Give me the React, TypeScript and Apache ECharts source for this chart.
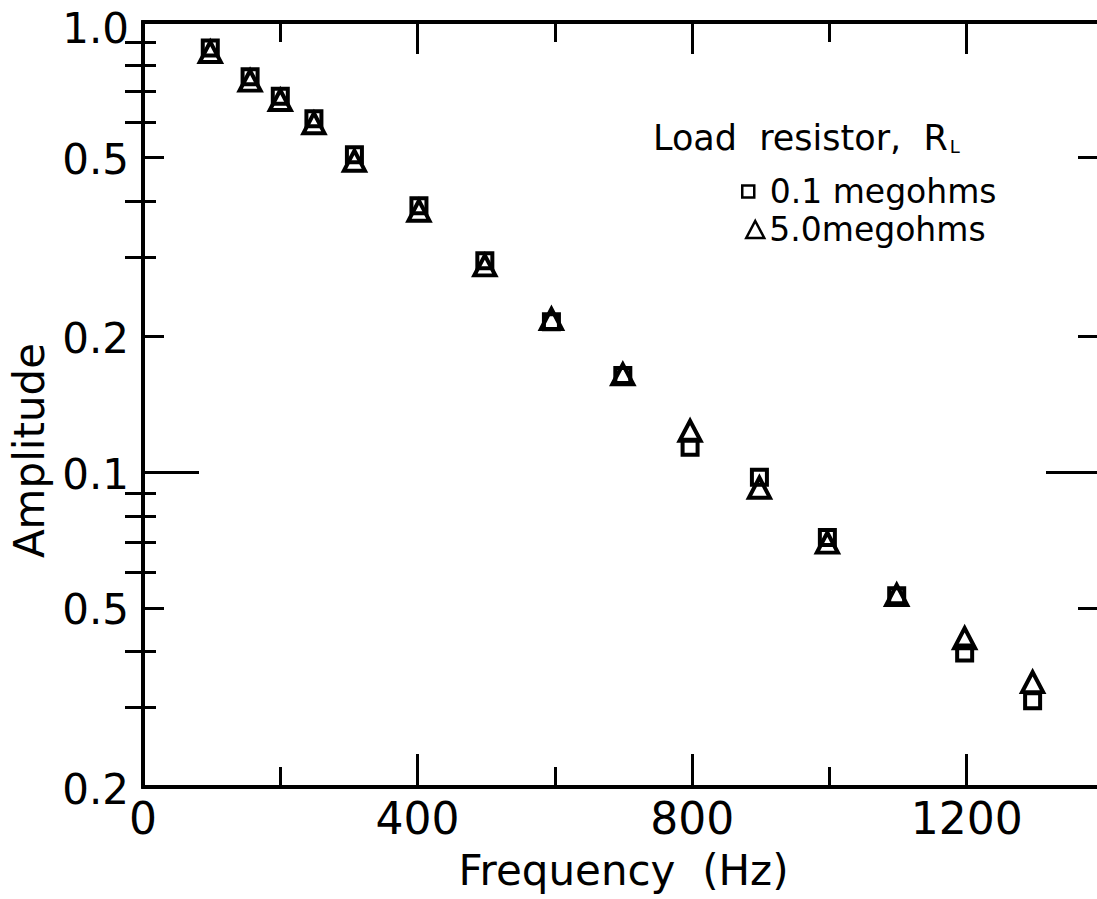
import React, { useEffect, useRef } from 'react';
import * as echarts from 'echarts';

// ---- data ----
const freqSquare = [98, 156, 200, 249, 308, 402, 498, 595, 699, 797, 898, 997, 1098, 1197, 1296];
const ampSquare = [0.876, 0.756, 0.684, 0.61, 0.507, 0.391, 0.295, 0.216, 0.164, 0.1136, 0.0975, 0.0716, 0.0532, 0.0397, 0.0311];
const freqTriangle = [98, 156, 200, 249, 308, 402, 498, 595, 699, 797, 898, 997, 1098, 1197, 1296];
const ampTriangle = [0.858, 0.741, 0.671, 0.596, 0.492, 0.381, 0.288, 0.219, 0.165, 0.1236, 0.0924, 0.0698, 0.0534, 0.0428, 0.0342];

const seriesNames = ['0.1 megohms', '5.0megohms'];
const legendTitle = 'Load  resistor,  R';
const legendTitleSub = 'L';

const yTickValues = [1, 0.5, 0.2, 0.1, 0.05, 0.02];
const yTickLabels = ['1.0', '0.5', '0.2', '0.1', '0.5', '0.2'];
const yMajorTicks = [0.5, 0.2, 0.05];
const yLongTicks = [0.1];
const yMinorTicks = [0.9, 0.8, 0.7, 0.6, 0.4, 0.3, 0.09, 0.08, 0.07, 0.06, 0.04, 0.03];
const yMin = 0.02;
const yMax = 1;

const xLabelValues = [0, 400, 800, 1200];
const xMajorTicks = [400, 800, 1200];
const xMinorTicks = [200, 600, 1000];
const xMin = 0;
const xMax = 1400;

const FONT = 'DejaVu Sans';
const INK = '#000';

function yLabel(value: number): string {
  const i = yTickValues.findIndex((v) => Math.abs(v - value) / v < 1e-6);
  if (i < 0) return '';
  return (i === 0 ? '{t|' : '{n|') + yTickLabels[i] + '}';
}

export default function App() {
  const ref = useRef<HTMLDivElement>(null);

  useEffect(() => {
    if (!ref.current) return;
    const chart = echarts.init(ref.current, undefined, { renderer: 'svg' });

    const lineStyle = { color: INK, width: 4 };

    const yAxisBase = (position: 'left' | 'right', ticks: number[], len: number, labels: boolean, extra: any = {}) => ({
      type: 'log',
      logBase: 10,
      min: yMin,
      max: yMax,
      position,
      axisLine: { show: true, lineStyle },
      axisTick: { show: true, inside: true, length: len, customValues: ticks, lineStyle: { color: INK, width: 3 } },
      axisLabel: labels
        ? {
            show: true,
            customValues: yTickValues,
            formatter: (v: number) => yLabel(v),
            fontFamily: FONT,
            fontSize: 42,
            color: INK,
            margin: 14,
            rich: {
              t: { fontFamily: FONT, fontSize: 42, color: INK, padding: [12, 0, 0, 0] },
              n: { fontFamily: FONT, fontSize: 42, color: INK, padding: [4, 0, 0, 0] },
            },
          }
        : { show: false },
      splitLine: { show: false },
      minorTick: { show: false },
      ...extra,
    });

    const xAxisBase = (position: 'top' | 'bottom', ticks: number[], len: number, labels: boolean, extra: any = {}) => ({
      type: 'value',
      min: xMin,
      max: xMax,
      position,
      axisLine: { show: true, lineStyle },
      axisTick: { show: true, inside: true, length: len, customValues: ticks, lineStyle: { color: INK, width: 3 } },
      axisLabel: labels
        ? {
            show: true,
            customValues: xLabelValues,
            formatter: (v: number) => String(v),
            fontFamily: FONT,
            fontSize: 44,
            color: INK,
            margin: 9,
          }
        : { show: false },
      splitLine: { show: false },
      ...extra,
    });

    const option: any = {
      animation: false,
      backgroundColor: '#fff',
      grid: { left: 143, top: 22, right: 0, bottom: 112, containLabel: false },
      xAxis: [
        xAxisBase('bottom', xMajorTicks, 33, true, {
          name: 'Frequency  (Hz)',
          nameLocation: 'middle',
          nameGap: 62,
          nameTextStyle: { fontFamily: FONT, fontSize: 42, color: INK },
        }),
        xAxisBase('bottom', xMinorTicks, 20, false),
        xAxisBase('top', xMajorTicks, 32, false),
        xAxisBase('top', xMinorTicks, 20, false),
      ],
      yAxis: [
        yAxisBase('left', yMajorTicks, 21, true, {
          name: 'Amplitude',
          nameLocation: 'middle',
          nameGap: 93,
          nameTextStyle: { fontFamily: FONT, fontSize: 42, color: INK, padding: [0, 92, 0, 0] },
        }),
        yAxisBase('left', yMinorTicks, 13, false),
        yAxisBase('left', yLongTicks, 56, false),
        yAxisBase('right', yMinorTicks, 18, false),
        yAxisBase('right', yMajorTicks, 26, false),
        yAxisBase('right', yLongTicks, 58, false),
      ],
      legend: [
        {
          left: 741,
          top: 175,
          padding: 0,
          itemWidth: 12,
          itemHeight: 12,
          formatter: (n: string) => ' ' + n,
          textStyle: { fontFamily: FONT, fontSize: 33, color: INK },
          data: [{ name: seriesNames[0], icon: 'rect', itemStyle: { color: 'rgba(255,255,255,0)', borderColor: INK, borderWidth: 2.5, opacity: 1 } }],
        },
        {
          left: 745,
          top: 213,
          padding: 0,
          itemWidth: 18,
          itemHeight: 17,
          textStyle: { fontFamily: FONT, fontSize: 33, color: INK },
          data: [{ name: seriesNames[1], icon: 'triangle', itemStyle: { color: 'rgba(255,255,255,0)', borderColor: INK, borderWidth: 2.5, opacity: 1 } }],
        },
      ],
      graphic: [
        {
          type: 'text',
          left: 653,
          top: 120,
          style: {
            text: '{m|' + legendTitle + '}{s|' + legendTitleSub + '}',
            rich: {
              m: { fontFamily: FONT, fontSize: 35, fill: INK, color: INK },
              s: { fontFamily: FONT, fontSize: 18, fill: INK, color: INK, verticalAlign: 'bottom', padding: [0, 0, 0, 2] },
            },
          },
        },
      ],
      series: [
        {
          name: seriesNames[0],
          type: 'scatter',
          xAxisIndex: 0,
          yAxisIndex: 0,
          symbol: 'rect',
          symbolSize: 15,
          itemStyle: { color: 'rgba(255,255,255,0)', borderColor: INK, borderWidth: 4, opacity: 1 },
          data: freqSquare.map((f, i) => [f, ampSquare[i]]),
          z: 5,
        },
        {
          name: seriesNames[1],
          type: 'scatter',
          xAxisIndex: 0,
          yAxisIndex: 0,
          symbol: 'triangle',
          symbolSize: [21, 20],
          itemStyle: { color: 'rgba(255,255,255,0)', borderColor: INK, borderWidth: 4, opacity: 1 },
          data: freqTriangle.map((f, i) => [f, ampTriangle[i]]),
          z: 5,
        },
      ],
    };

    chart.setOption(option);
    return () => chart.dispose();
  }, []);

  return (
    <div
      ref={ref}
      style={{ position: 'fixed', left: 0, top: 0, width: 1104, height: 899, background: '#fff' }}
    />
  );
}
